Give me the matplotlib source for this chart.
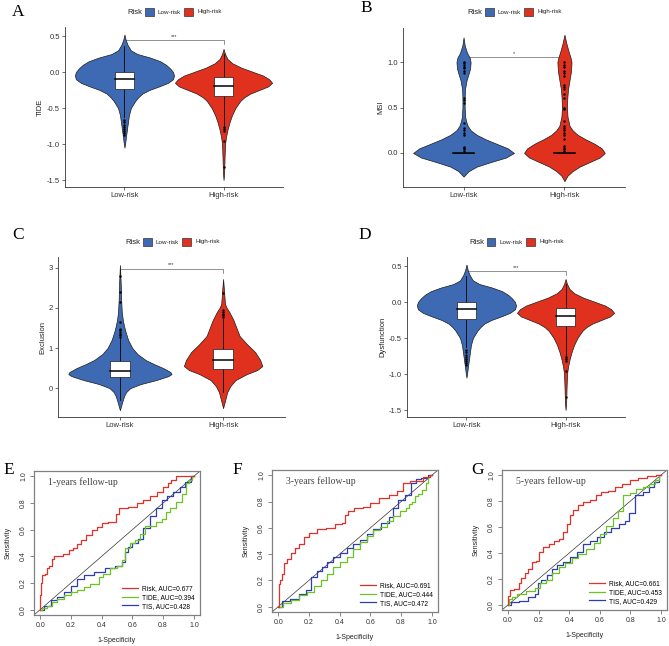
import numpy as np
import matplotlib
matplotlib.use("Agg")
import matplotlib.pyplot as plt
from matplotlib.patches import Rectangle
from matplotlib.lines import Line2D

plt.rcParams['font.family'] = ['Liberation Sans', 'DejaVu Sans']
plt.rcParams['axes.unicode_minus'] = False

# ---------------- data ----------------
groups = ["Low-risk", "High-risk"]
legend_title = "Risk"
group_colors = ["#3D6AB3", "#E0311F"]

# Panel A: TIDE (violin profile: y levels and half-widths)
tide_low_y = [0.52, 0.45, 0.38, 0.3, 0.25, 0.2, 0.15, 0.1, 0.05, 0.0, -0.05, -0.1, -0.15, -0.2, -0.25,
              -0.3, -0.35, -0.4, -0.5, -0.6, -0.7, -0.8, -0.9, -1.0, -1.05]
tide_low_w = [0.0, 0.012, 0.03, 0.065, 0.13, 0.26, 0.36, 0.42, 0.46, 0.49, 0.5, 0.49, 0.44, 0.35, 0.25,
              0.18, 0.14, 0.11, 0.065, 0.045, 0.035, 0.025, 0.015, 0.006, 0.0]
tide_high_y = [0.32, 0.25, 0.18, 0.12, 0.06, 0.0, -0.05, -0.1, -0.15, -0.2, -0.25, -0.3, -0.35, -0.4,
               -0.5, -0.6, -0.7, -0.8, -0.9, -1.0, -1.2, -1.4, -1.5]
tide_high_w = [0.0, 0.015, 0.04, 0.09, 0.18, 0.3, 0.4, 0.46, 0.49, 0.45, 0.36, 0.27, 0.21, 0.17,
               0.12, 0.085, 0.06, 0.04, 0.025, 0.015, 0.01, 0.006, 0.0]
tide_q1 = [-0.24, -0.33]
tide_med = [-0.10, -0.19]
tide_q3 = [0.0, -0.075]
tide_wlo = [-0.62, -0.75]
tide_whi = [0.36, 0.25]
tide_out_low = [-0.67, -0.70, -0.73, -0.76, -0.79, -0.82, -0.85, -0.88]
tide_out_high = [-0.77, -0.79, -0.82, -0.96, -1.32]

# Panel B: MSI
msi_low_y = [-0.26, -0.2, -0.15, -0.1, -0.05, 0.0, 0.05, 0.1, 0.15, 0.2, 0.25, 0.3, 0.35, 0.4, 0.5, 0.6,
             0.7, 0.8, 0.87, 0.93, 1.0, 1.05, 1.1, 1.18, 1.27]
msi_low_w = [0.0, 0.05, 0.13, 0.27, 0.42, 0.5, 0.44, 0.33, 0.22, 0.13, 0.07, 0.04, 0.025, 0.016, 0.011,
             0.011, 0.014, 0.03, 0.05, 0.065, 0.07, 0.06, 0.035, 0.012, 0.0]
msi_high_y = [-0.31, -0.25, -0.2, -0.15, -0.1, -0.05, 0.0, 0.05, 0.1, 0.15, 0.2, 0.25, 0.3, 0.4, 0.5,
              0.6, 0.7, 0.8, 0.9, 1.0, 1.05, 1.1, 1.2, 1.3]
msi_high_w = [0.0, 0.03, 0.08, 0.15, 0.25, 0.35, 0.4, 0.37, 0.3, 0.21, 0.13, 0.08, 0.05, 0.03, 0.025,
              0.028, 0.035, 0.05, 0.065, 0.07, 0.06, 0.045, 0.02, 0.0]
msi_q1 = [0.0, 0.0]
msi_med = [0.0, 0.0]
msi_q3 = [0.0, 0.0]
msi_wlo = [0.0, 0.0]
msi_whi = [0.0, 0.0]
msi_out_low = [0.02, 0.04, 0.06, 0.07, 0.2, 0.22, 0.25, 0.28, 0.33, 0.55, 0.58, 0.6, 0.88, 0.9, 0.93,
               0.95, 0.97, 0.99, 1.0]
msi_out_high = [0.02, 0.04, 0.06, 0.08, 0.15, 0.2, 0.22, 0.25, 0.28, 0.3, 0.35, 0.48, 0.5, 0.6, 0.65,
                0.7, 0.72, 0.75, 0.85, 0.88, 0.9, 0.95, 0.97, 1.0]

# Panel C: Exclusion
excl_low_y = [3.07, 2.6, 2.2, 1.9, 1.7, 1.55, 1.4, 1.2, 1.0, 0.85, 0.7, 0.6, 0.5, 0.4, 0.35, 0.3, 0.2,
              0.1, 0.0, -0.1, -0.2, -0.35, -0.55]
excl_low_w = [0.0, 0.008, 0.012, 0.018, 0.028, 0.04, 0.055, 0.08, 0.12, 0.17, 0.25, 0.33, 0.42, 0.49,
              0.5, 0.47, 0.35, 0.2, 0.1, 0.06, 0.04, 0.022, 0.0]
excl_high_y = [2.72, 2.4, 2.1, 2.0, 1.9, 1.7, 1.5, 1.3, 1.1, 0.9, 0.7, 0.55, 0.45, 0.35, 0.2, 0.05,
               -0.1, -0.3, -0.5]
excl_high_w = [0.0, 0.01, 0.018, 0.035, 0.06, 0.1, 0.13, 0.16, 0.23, 0.31, 0.36, 0.38, 0.33, 0.23,
               0.12, 0.07, 0.04, 0.02, 0.0]
excl_q1 = [0.27, 0.475]
excl_med = [0.425, 0.70]
excl_q3 = [0.675, 0.975]
excl_wlo = [-0.3, -0.1]
excl_whi = [1.25, 1.72]
excl_out_low = [1.28, 1.32, 1.36, 1.4, 1.44, 1.48, 1.65, 2.15, 2.4, 2.8]
excl_out_high = [1.78, 1.82, 1.86, 1.9, 1.95, 2.38]

# Panel D: Dysfunction
dys_low_y = [0.52, 0.45, 0.38, 0.3, 0.25, 0.2, 0.15, 0.1, 0.05, 0.0, -0.05, -0.1, -0.15, -0.2, -0.25,
             -0.3, -0.35, -0.4, -0.5, -0.6, -0.7, -0.8, -0.9, -1.0, -1.05]
dys_low_w = [0.0, 0.012, 0.03, 0.065, 0.13, 0.26, 0.36, 0.42, 0.46, 0.49, 0.5, 0.49, 0.44, 0.35, 0.25,
             0.18, 0.14, 0.11, 0.065, 0.045, 0.035, 0.025, 0.015, 0.006, 0.0]
dys_high_y = [0.32, 0.25, 0.18, 0.12, 0.06, 0.0, -0.05, -0.1, -0.15, -0.2, -0.25, -0.3, -0.35, -0.4,
              -0.5, -0.6, -0.7, -0.8, -0.9, -1.0, -1.2, -1.4, -1.5]
dys_high_w = [0.0, 0.015, 0.04, 0.09, 0.18, 0.3, 0.4, 0.46, 0.49, 0.45, 0.36, 0.27, 0.21, 0.17,
              0.12, 0.085, 0.06, 0.04, 0.025, 0.015, 0.01, 0.006, 0.0]
dys_q1 = [-0.24, -0.34]
dys_med = [-0.10, -0.19]
dys_q3 = [0.0, -0.08]
dys_wlo = [-0.62, -0.75]
dys_whi = [0.36, 0.25]
dys_out_low = [-0.67, -0.70, -0.73, -0.76, -0.79, -0.82, -0.85, -0.88]
dys_out_high = [-0.77, -0.79, -0.82, -0.96, -1.32]

# ROC curves
roc_names = ["Risk", "TIDE", "TIS"]
roc_colors = ["#E2302A", "#6CC324", "#2E3DB0"]

auc_1y = [0.677, 0.394, 0.428]
risk1_fpr = [0, 0, 0.01, 0.02, 0.037, 0.047, 0.07, 0.08, 0.095, 0.13, 0.17, 0.2, 0.23, 0.25, 0.28, 0.32,
             0.35, 0.39, 0.42, 0.46, 0.49, 0.5, 0.53, 0.61, 0.65, 0.69, 0.74, 0.78, 0.82, 0.84, 0.86, 0.91, 1.0]
risk1_tpr = [0, 0.11, 0.2, 0.26, 0.27, 0.31, 0.33, 0.38, 0.40, 0.40, 0.42, 0.45, 0.46, 0.49, 0.52, 0.56,
             0.60, 0.62, 0.65, 0.66, 0.66, 0.72, 0.76, 0.77, 0.80, 0.82, 0.85, 0.88, 0.92, 0.95, 0.97, 1.0, 1.0]
tide1_fpr = [0, 0.03, 0.06, 0.09, 0.13, 0.18, 0.22, 0.26, 0.31, 0.34, 0.37, 0.39, 0.43, 0.48, 0.52, 0.54,
             0.57, 0.6, 0.63, 0.67, 0.70, 0.74, 0.77, 0.81, 0.83, 0.86, 0.91, 0.94, 0.96, 0.98, 1.0]
tide1_tpr = [0, 0.01, 0.03, 0.06, 0.08, 0.11, 0.13, 0.145, 0.17, 0.195, 0.195, 0.245, 0.27, 0.31, 0.33,
             0.37, 0.46, 0.50, 0.52, 0.57, 0.63, 0.63, 0.66, 0.68, 0.73, 0.76, 0.81, 0.87, 0.95, 0.97, 1.0]
tis1_fpr = [0, 0.05, 0.09, 0.13, 0.18, 0.22, 0.26, 0.31, 0.39, 0.46, 0.52, 0.54, 0.56, 0.58, 0.62, 0.65,
            0.69, 0.74, 0.77, 0.81, 0.84, 0.89, 0.93, 0.96, 1.0]
tis1_tpr = [0, 0.03, 0.07, 0.095, 0.13, 0.18, 0.23, 0.26, 0.28, 0.31, 0.33, 0.36, 0.43, 0.47, 0.50, 0.53,
            0.61, 0.70, 0.76, 0.82, 0.85, 0.88, 0.92, 0.96, 1.0]

auc_3y = [0.691, 0.444, 0.472]
risk3_fpr = [0, 0.006, 0.02, 0.03, 0.05, 0.07, 0.095, 0.12, 0.15, 0.18, 0.22, 0.28, 0.34, 0.40, 0.43, 0.44,
             0.47, 0.52, 0.58, 0.62, 0.69, 0.75, 0.79, 0.83, 0.88, 0.92, 0.97, 1.0]
risk3_tpr = [0, 0.175, 0.2, 0.25, 0.33, 0.36, 0.41, 0.45, 0.48, 0.53, 0.56, 0.59, 0.60, 0.63, 0.64, 0.70,
             0.73, 0.75, 0.76, 0.79, 0.83, 0.85, 0.88, 0.94, 0.96, 0.96, 0.99, 1.0]
tide3_fpr = [0, 0.06, 0.105, 0.17, 0.21, 0.26, 0.30, 0.34, 0.38, 0.43, 0.47, 0.51, 0.56, 0.60, 0.64, 0.69,
             0.73, 0.77, 0.82, 0.84, 0.86, 0.88, 0.90, 0.92, 0.95, 0.97, 0.98, 1.0]
tide3_tpr = [0, 0.025, 0.055, 0.09, 0.11, 0.16, 0.20, 0.25, 0.30, 0.34, 0.38, 0.44, 0.49, 0.54, 0.58, 0.61,
             0.65, 0.69, 0.73, 0.75, 0.78, 0.80, 0.84, 0.86, 0.89, 0.94, 0.99, 1.0]
tis3_fpr = [0, 0.05, 0.105, 0.16, 0.20, 0.23, 0.27, 0.30, 0.34, 0.38, 0.43, 0.47, 0.51, 0.56, 0.60, 0.64,
            0.70, 0.74, 0.76, 0.80, 0.85, 0.88, 0.91, 0.95, 1.0]
tis3_tpr = [0, 0.04, 0.06, 0.10, 0.125, 0.225, 0.275, 0.30, 0.34, 0.375, 0.41, 0.45, 0.48, 0.51, 0.55, 0.59,
            0.64, 0.68, 0.75, 0.81, 0.85, 0.94, 0.97, 0.98, 1.0]

auc_5y = [0.661, 0.453, 0.429]
risk5_fpr = [0, 0, 0.02, 0.06, 0.08, 0.095, 0.12, 0.14, 0.17, 0.19, 0.21, 0.25, 0.28, 0.32, 0.35, 0.37,
             0.40, 0.41, 0.44, 0.47, 0.51, 0.56, 0.59, 0.63, 0.68, 0.72, 0.77, 0.82, 0.88, 0.94, 1.0]
risk5_tpr = [0, 0.07, 0.115, 0.12, 0.17, 0.21, 0.245, 0.28, 0.33, 0.34, 0.41, 0.445, 0.47, 0.495, 0.51,
             0.56, 0.62, 0.695, 0.73, 0.77, 0.795, 0.81, 0.845, 0.87, 0.88, 0.91, 0.93, 0.96, 0.975, 0.99, 1.0]
tide5_fpr = [0, 0.01, 0.04, 0.08, 0.15, 0.20, 0.22, 0.27, 0.31, 0.35, 0.40, 0.44, 0.48, 0.54, 0.58, 0.62,
             0.66, 0.71, 0.73, 0.78, 0.82, 0.86, 0.90, 0.94, 0.98, 1.0]
tide5_tpr = [0, 0.045, 0.06, 0.08, 0.11, 0.13, 0.17, 0.195, 0.245, 0.295, 0.32, 0.36, 0.395, 0.43, 0.48,
             0.545, 0.61, 0.67, 0.72, 0.845, 0.86, 0.895, 0.91, 0.93, 0.96, 1.0]
tis5_fpr = [0, 0.04, 0.105, 0.16, 0.19, 0.20, 0.23, 0.28, 0.30, 0.34, 0.38, 0.43, 0.47, 0.51, 0.56, 0.60,
            0.65, 0.70, 0.75, 0.78, 0.80, 0.86, 0.90, 0.94, 0.97, 1.0]
tis5_tpr = [0, 0.02, 0.03, 0.06, 0.08, 0.17, 0.195, 0.23, 0.28, 0.31, 0.33, 0.37, 0.41, 0.47, 0.495, 0.52,
            0.56, 0.595, 0.62, 0.645, 0.71, 0.845, 0.87, 0.91, 0.945, 1.0]

# ---------------- drawing ----------------
W, H = 669, 646
fig = plt.figure(figsize=(W / 100, H / 100), dpi=100)
fig.patch.set_facecolor("white")


def ax_px(l, t, r, b):
    return fig.add_axes([l / W, 1 - b / H, (r - l) / W, (b - t) / H])


def ftext(x, y, s, **kw):
    fig.text(x / W, 1 - y / H, s, **kw)


def panel_letter(x, y, s):
    ftext(x, y, s, family=['Liberation Serif', 'DejaVu Serif'], fontsize=12.5, va='center', ha='left')


def risk_legend(cx, y):
    x0 = cx - 47
    ftext(x0, y, legend_title, fontsize=5.5, va='center', ha='left', color='#222222')
    for k, (op, ot) in enumerate([(18, 30), (57, 70)]):
        fig.patches.append(Rectangle(((x0 + op) / W, 1 - (y + 4.3) / H), 8.5 / W, 8.5 / H,
                                     transform=fig.transFigure, fc=group_colors[k], ec='#333333', lw=0.5))
        ftext(x0 + ot, y, groups[k], fontsize=4.5, va='center', ha='left', color='#222222')


def violin_panel(rect, ylabel, ylim, yticks, fmt, profiles, q1, med, q3, wlo, whi, outs, sig, sig_y, tip):
    ax = ax_px(*rect)
    for i, (py, pw) in enumerate(profiles):
        x = i + 1
        py = np.asarray(py, float)
        pw = np.asarray(pw, float)
        ax.fill_betweenx(py, x - pw, x + pw, facecolor=group_colors[i], edgecolor='#1a1a1a', lw=0.5, zorder=2)
        ax.plot([x, x], [wlo[i], whi[i]], color='black', lw=0.6, zorder=3)
        ax.add_patch(Rectangle((x - 0.1, q1[i]), 0.2, q3[i] - q1[i], fc='white', ec='#1a1a1a', lw=0.5, zorder=4))
        ax.plot([x - 0.1, x + 0.1], [med[i], med[i]], color='black', lw=1.1, zorder=5)
        ax.scatter([x] * len(outs[i]), outs[i], s=3, color='black', zorder=6, lw=0)
    ax.plot([1, 1, 2, 2], [sig_y - tip, sig_y, sig_y, sig_y - tip], color='#808080', lw=0.6, zorder=1)
    ax.text(1.5, sig_y + tip * 0.4, sig, ha='center', va='bottom', fontsize=4, color='#333333')
    ax.set_xlim(0.4, 2.6)
    ax.set_ylim(*ylim)
    ax.set_xticks([1, 2])
    ax.set_xticklabels(groups)
    ax.set_yticks(yticks)
    ax.set_yticklabels([fmt % v for v in yticks])
    for s in ['top', 'right']:
        ax.spines[s].set_visible(False)
    for s in ['left', 'bottom']:
        ax.spines[s].set_color('#333333')
        ax.spines[s].set_linewidth(0.6)
    ax.tick_params(length=2, width=0.5, color='#333333', labelsize=5.5, labelcolor='#333333', pad=1.5)
    ax.set_ylabel(ylabel, fontsize=5.5, labelpad=2, color='#222222')
    return ax


# A
violin_panel((65, 27, 283, 187), "TIDE", (-1.597, 0.625), [-1.5, -1.0, -0.5, 0.0, 0.5], "%.1f",
             [(tide_low_y, tide_low_w), (tide_high_y, tide_high_w)],
             tide_q1, tide_med, tide_q3, tide_wlo, tide_whi, [tide_out_low, tide_out_high], "***", 0.44, 0.05)
panel_letter(12, 12, "A")
risk_legend(174, 12)

# B
violin_panel((403, 28, 625, 187), "MSI", (-0.374, 1.374), [0.0, 0.5, 1.0], "%.1f",
             [(msi_low_y, msi_low_w), (msi_high_y, msi_high_w)],
             msi_q1, msi_med, msi_q3, msi_wlo, msi_whi, [msi_out_low, msi_out_high], "*", 1.05, 0.03)
panel_letter(360, 8, "B")
risk_legend(514, 12)

# C
violin_panel((58, 257, 285, 417), "Exclusion", (-0.72, 3.27), [0, 1, 2, 3], "%d",
             [(excl_low_y, excl_low_w), (excl_high_y, excl_high_w)],
             excl_q1, excl_med, excl_q3, excl_wlo, excl_whi, [excl_out_low, excl_out_high], "***", 2.97, 0.1)
panel_letter(12, 235, "C")
risk_legend(172, 242)

# D
violin_panel((407, 257, 625, 417), "Dysfunction", (-1.597, 0.625), [-1.5, -1.0, -0.5, 0.0, 0.5], "%.1f",
             [(dys_low_y, dys_low_w), (dys_high_y, dys_high_w)],
             dys_q1, dys_med, dys_q3, dys_wlo, dys_whi, [dys_out_low, dys_out_high], "***", 0.43, 0.05)
panel_letter(358, 235, "D")
risk_legend(516, 242)


def roc_panel(rect, title, curves, aucs):
    ax = ax_px(*rect)
    ax.axline((0, 0), (1, 1), color='#333333', lw=0.5, zorder=1)
    handles, labels = [], []
    for k, (fx, ty) in enumerate(curves):
        ax.plot(fx, ty, color=roc_colors[k], lw=0.9, drawstyle='steps-mid', zorder=3 - k * 0.1)
        handles.append(Line2D([], [], color=roc_colors[k], lw=0.9))
        labels.append(f"{roc_names[k]}, AUC={aucs[k]:.3f}")
    ax.legend(handles, labels, loc='lower right', frameon=False, fontsize=4.8, handlelength=2.4,
              handletextpad=0.6, labelspacing=0.25, borderaxespad=0.4)
    ax.text(0.05, 0.955, title, family=['Liberation Serif', 'DejaVu Serif'], fontsize=7,
            color='#444444', va='center', ha='left')
    ax.set_xlim(-0.04, 1.04)
    ax.set_ylim(-0.04, 1.04)
    ticks = [0.0, 0.2, 0.4, 0.6, 0.8, 1.0]
    ax.set_xticks(ticks)
    ax.set_yticks(ticks)
    ax.set_xticklabels(["%.1f" % t for t in ticks])
    ax.set_yticklabels(["%.1f" % t for t in ticks], rotation=90, va='center')
    for s in ax.spines.values():
        s.set_color('#808080')
        s.set_linewidth(0.9)
    ax.tick_params(length=3, width=0.5, color='#555555', labelsize=5, labelcolor='#333333', pad=2)
    ax.set_xlabel("1-Specificity", fontsize=5, labelpad=6, color='#222222')
    ax.set_ylabel("Sensitivity", fontsize=5, labelpad=6, color='#222222')
    return ax


roc_panel((34, 471, 200, 615), "1-years fellow-up",
          [(risk1_fpr, risk1_tpr), (tide1_fpr, tide1_tpr), (tis1_fpr, tis1_tpr)], auc_1y)
panel_letter(3, 470, "E")
roc_panel((272, 470, 438, 612), "3-years fellow-up",
          [(risk3_fpr, risk3_tpr), (tide3_fpr, tide3_tpr), (tis3_fpr, tis3_tpr)], auc_3y)
panel_letter(232, 470, "F")
roc_panel((502, 470, 667, 610), "5-years fellow-up",
          [(risk5_fpr, risk5_tpr), (tide5_fpr, tide5_tpr), (tis5_fpr, tis5_tpr)], auc_5y)
panel_letter(471, 470, "G")

fig.savefig("out.png", dpi=100, facecolor="white")
